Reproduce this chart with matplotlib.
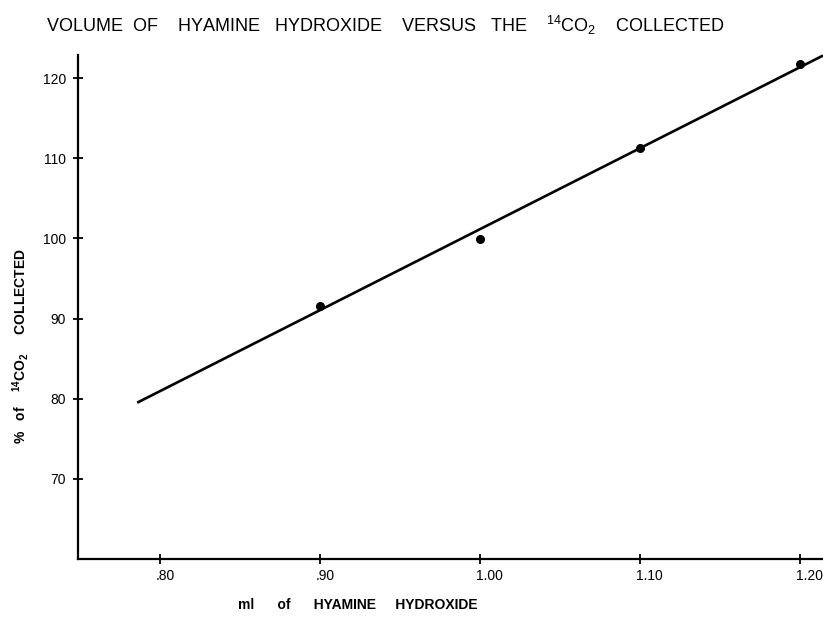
import matplotlib
matplotlib.use("Agg")
import matplotlib.pyplot as plt
from matplotlib.transforms import ScaledTranslation

# Data
volume_ml = [0.90, 1.00, 1.10, 1.20]
pct_collected = [91.6, 99.9, 111.25, 121.75]
fit_x = [0.786, 1.2146]
fit_y = [79.5, 122.8]

x_ticks = [0.80, 0.90, 1.00, 1.10, 1.20]
x_tick_labels = [".80", ".90", "1.00", "1.10", "1.20"]
y_ticks = [70, 80, 90, 100, 110, 120]
y_tick_labels = ["70", "80", "90", "100", "110", "120"]

plt.rcParams['font.family'] = ['Liberation Sans', 'DejaVu Sans']
plt.rcParams['mathtext.default'] = 'regular'

fig = plt.figure(figsize=(8.23, 6.18), dpi=100)
ax = fig.add_axes([78/823, 59/618, 1 - 78/823, (559-55)/618])

ax.plot(fit_x, fit_y, color='black', lw=1.9, solid_capstyle='butt', clip_on=False)
ax.plot(volume_ml, pct_collected, 'o', color='black', ms=5.5)

ax.set_xlim(0.749, 1.2146)
ax.set_ylim(60, 122.87)

ax.spines['top'].set_visible(False)
ax.spines['right'].set_visible(False)
ax.spines['left'].set_linewidth(1.6)
ax.spines['bottom'].set_linewidth(1.6)

ax.set_xticks(x_ticks)
ax.set_xticklabels(x_tick_labels)
ax.set_yticks(y_ticks)
ax.set_yticklabels(y_tick_labels)
ax.tick_params(direction='inout', length=7, width=1.3, labelsize=10, pad=5)
ax.tick_params(axis='x', pad=4)
off = ScaledTranslation(-4/100, 0, fig.dpi_scale_trans)
for lab in ax.get_xticklabels():
    lab.set_horizontalalignment('left')
    lab.set_transform(lab.get_transform() + off)

fig.text(46/823, 1 - 25/618,
         r"VOLUME  OF    HYAMINE   HYDROXIDE    VERSUS   THE    $^{14}$CO$_2$    COLLECTED",
         fontsize=13, ha='left', va='center')
fig.text(238/823, 1 - 605/618, "ml      of      HYAMINE     HYDROXIDE",
         fontsize=10, fontweight='bold', ha='left', va='center')
fig.text(21/823, 1 - 346/618, r"%   of    $^{14}$CO$_2$     COLLECTED",
         fontsize=10, fontweight='bold', rotation=90, ha='center', va='center')

fig.savefig("out.png", dpi=100)
